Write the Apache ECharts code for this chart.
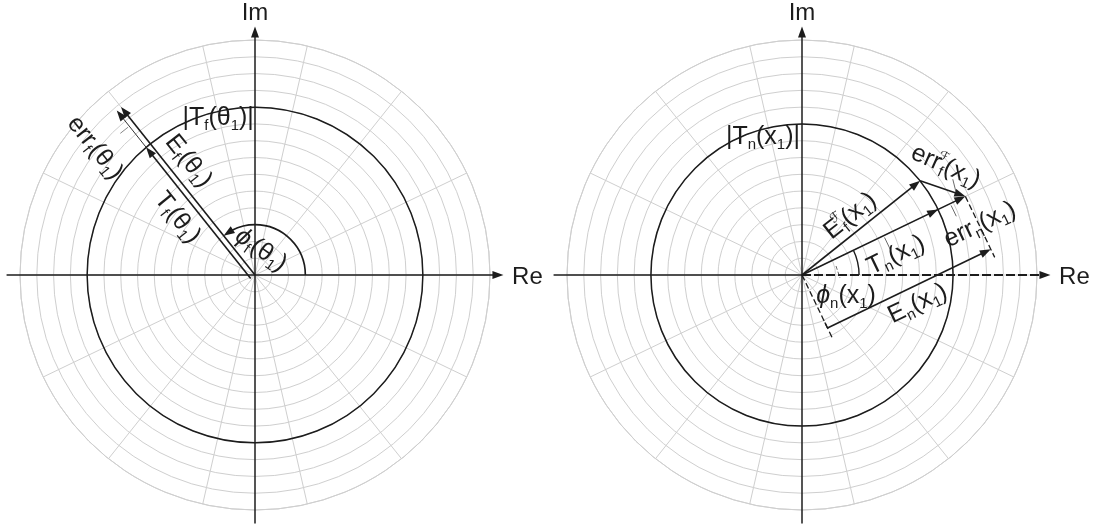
<!DOCTYPE html>
<html>
<head>
<meta charset="utf-8">
<script src="https://cdn.jsdelivr.net/npm/echarts@6/dist/echarts.min.js"></script>
<style>
  html, body { margin: 0; padding: 0; background: #fff; }
  #chart { width: 1102px; height: 526px; }
</style>
</head>
<body>
<div id="chart"></div>
<script>
// ---- polar grid ----
const ringCount = 14;          // concentric rings
const spokeCount = 14;         // radial spokes
const axisReach = [14.8];      // Re / Im axes run slightly past the outer ring

// ---- left panel: T_f(θ1), E_f(θ1) ----
const leftCircle = [10];       // |T_f(θ1)|
const leftPhase = [128.57];    // φ_f(θ1) in degrees
const leftMagT = [10];         // |T_f(θ1)|
const leftMagE = [12.8];       // |E_f(θ1)|
const leftArc = [3];           // radius of the φ_f arc

// ---- right panel: T_n(x1), E_n(x1), E_f^F(x1) ----
const rightCircle = [9];       // |T_n(x1)|
const rightPhase = [25.71];    // φ_n(x1) in degrees
const rightMagT = [9];         // |T_n(x1)|
const rightMagE = [10.8];      // |E_n(x1)|
const rightPhaseF = [38.57];   // phase of E_f^F(x1)
const rightMagF = [9];         // |E_f^F(x1)|
const rightArc = [3.4];        // radius of the φ_n arc
const rightShiftEn = [3.5];    // E_n(x1) drawn as a shifted dimension line

const INK = '#1c1c1c';
const GRID = '#cfcfcf';
const FONT = '"Liberation Sans", Arial, "DejaVu Sans", sans-serif';

const RICH = {
  m: { fontSize: 25, fontFamily: FONT, fill: INK },
  g: { fontSize: 25, fontFamily: FONT, fill: INK, fontStyle: 'italic' },
  s: { fontSize: 15, fontFamily: FONT, fill: INK, padding: [15, 0, 0, 0] },
  p: { fontSize: 13, fontFamily: FONT, fill: INK, padding: [0, 0, 16, 0], width: 1 },
  a: { fontSize: 24, fontFamily: FONT, fill: INK }
};

function seg(a, b, w, dash, color) {
  return {
    type: 'line',
    shape: { x1: a[0], y1: a[1], x2: b[0], y2: b[1] },
    style: { stroke: color || INK, lineWidth: w, lineDash: dash || null, fill: null }
  };
}
function head(tip, from, len, half) {
  const dx = tip[0] - from[0], dy = tip[1] - from[1];
  const L = Math.hypot(dx, dy);
  const ux = dx / L, uy = dy / L;
  const bx = tip[0] - ux * len, by = tip[1] - uy * len;
  return {
    type: 'polygon',
    shape: { points: [tip, [bx - uy * half, by + ux * half], [bx + uy * half, by - ux * half]] },
    style: { fill: INK, stroke: null }
  };
}
function arrow(a, b, w, dash) {
  const dx = b[0] - a[0], dy = b[1] - a[1];
  const L = Math.hypot(dx, dy);
  const e = [b[0] - dx / L * 7, b[1] - dy / L * 7];
  return [seg(a, e, w, dash), head(b, a, 11, 4)];
}
function label(p, txt, rotDeg) {
  return {
    type: 'text',
    x: p[0], y: p[1],
    rotation: rotDeg * Math.PI / 180,
    style: { text: txt, rich: RICH, align: 'center', verticalAlign: 'middle', fill: INK, fontFamily: FONT, fontSize: 25 }
  };
}
function add(p, v, k) { return [p[0] + v[0] * k, p[1] + v[1] * k]; }

// axes with arrows and the |T| circle, shared by both panels
function frame(api, circleR, dashedRe) {
  const at = (r, deg) => api.coord([r, deg]);
  const C = at(0, 0);
  const reach = axisReach[0];
  const out = [];
  out.push({
    type: 'circle',
    shape: { cx: C[0], cy: C[1], r: at(circleR, 0)[0] - C[0] },
    style: { fill: null, stroke: INK, lineWidth: 1.5 }
  });
  const reL = at(reach, 180), reR = at(reach, 0), imB = at(reach, 270), imT = at(reach, 90);
  out.push(seg(imB, add(imT, [0, 1], 7), 1.5));
  out.push(head(imT, C, 11, 4));
  if (dashedRe) {
    out.push(seg(reL, C, 1.6));
    out.push(seg(C, add(reR, [-1, 0], 7), 1.9, [9, 3]));
  } else {
    out.push(seg(reL, add(reR, [-1, 0], 7), 1.5));
  }
  out.push(head(reR, C, 11, 4));
  out.push(label([imT[0], 13], '{a|Im}', 0));
  out.push(label([reR[0] + 24, 277], '{a|Re}', 0));
  return out;
}

function renderLeft(params, api) {
  const at = (r, deg) => api.coord([r, deg]);
  const C = at(0, 0);
  const u = at(1, 0)[0] - C[0];
  const phi = leftPhase[0];
  const rad = phi * Math.PI / 180;
  const d = [Math.cos(rad), -Math.sin(rad)];
  const n = [-Math.sin(rad), -Math.cos(rad)];
  const place = (r, off) => [C[0] + r * u * d[0] + off * n[0], C[1] + r * u * d[1] + off * n[1]];
  const along = phi - 180;   // text reads from the tip toward the origin
  const kids = frame(api, leftCircle[0], false);

  // E_f(θ1) from the origin, T_f(θ1) and err_f(θ1) on a parallel track
  kids.push(...arrow(C, place(leftMagE[0], 0), 1.6));
  kids.push(...arrow(place(0, 5.5), place(leftMagT[0], 5.5), 1.6));
  kids.push(...arrow(place(leftMagT[0], 5.5), place(leftMagE[0], 5.5), 0.9));
  kids.push(seg(place(11.6, 7), place(11.6, 17), 0.7, null, '#555'));

  // phase arc φ_f(θ1)
  const ar = leftArc[0] * u;
  const endRad = rad - 0.2;
  kids.push({
    type: 'arc',
    shape: { cx: C[0], cy: C[1], r: ar, startAngle: 0, endAngle: -endRad, clockwise: false },
    style: { fill: null, stroke: INK, lineWidth: 1.6 }
  });
  const tip = [C[0] + ar * Math.cos(rad), C[1] - ar * Math.sin(rad)];
  const from = [C[0] + ar * Math.cos(endRad), C[1] - ar * Math.sin(endRad)];
  kids.push(head(tip, from, 11, 4));

  kids.push(label(place(7.78, -19), '{m|E}{s|f}{m|(θ}{s|1}{m|)}', along));
  kids.push(label(place(5.55, 25), '{m|T}{s|f}{m|(θ}{s|1}{m|)}', along));
  kids.push(label(place(11.86, 46), '{m|err}{s|f}{m|(θ}{s|1}{m|)}', along));
  kids.push(label(at(9.6, 103.2), '{m|\u007CT}{s|f}{m|(θ}{s|1}{m|)\u007C}', 0));
  kids.push(label([C[0] + 6, C[1] - 25], '{g|ϕ}{s|f}{m|(θ}{s|1}{m|)}', -35));
  return { type: 'group', children: kids };
}

function renderRight(params, api) {
  const at = (r, deg) => api.coord([r, deg]);
  const C = at(0, 0);
  const u = at(1, 0)[0] - C[0];
  const phi = rightPhase[0];
  const rad = phi * Math.PI / 180;
  const d = [Math.cos(rad), -Math.sin(rad)];
  const n = [Math.sin(rad), Math.cos(rad)];
  const place = (r, off) => [C[0] + r * u * d[0] + off * n[0], C[1] + r * u * d[1] + off * n[1]];
  const kids = frame(api, rightCircle[0], true);

  const tipE = at(rightMagE[0], phi);
  const tipT = at(rightMagT[0], phi);
  const tipF = at(rightMagF[0], rightPhaseF[0]);

  // E_n(x1) through T_n(x1), E_f^F(x1) and err_f^F(x1)
  kids.push(...arrow(C, tipE, 1.6));
  kids.push(head(tipT, C, 11, 4));
  kids.push(...arrow(C, tipF, 1.6));
  kids.push(...arrow(tipF, tipE, 1.6));

  // shifted copy of E_n(x1) with its extension lines
  const sh = rightShiftEn[0] * u;
  const start = add(C, n, sh);
  kids.push(seg(C, add(C, n, sh + 12), 1.3, [6, 3]));
  kids.push(seg(start, add(start, n, -6), 1.4));
  kids.push(...arrow(start, add(start, [tipE[0] - C[0], tipE[1] - C[1]], 1), 1.6));
  kids.push(seg(tipE, add(tipE, n, sh + 9), 1.3, [6, 3]));

  // phase arc φ_n(x1)
  const ar = rightArc[0] * u;
  kids.push({
    type: 'arc',
    shape: { cx: C[0], cy: C[1], r: ar, startAngle: 0, endAngle: -rad, clockwise: false },
    style: { fill: null, stroke: INK, lineWidth: 1.4 }
  });

  // label leaders
  kids.push(seg(place(5.4, 2), place(5.4, 15), 0.8, null, '#444'));
  kids.push(seg(place(9.8, 2), place(9.8, 14), 0.8, null, '#444'));
  kids.push(seg([C[0] + 34, C[1] - 9], [C[0] + 38, C[1] + 3], 0.8, [4, 2], '#444'));
  const mid = add(tipF, [tipE[0] - tipF[0], tipE[1] - tipF[1]], 0.8);
  kids.push(seg(add(mid, [-0.25, -1], 2), add(mid, [-0.25, -1], 14), 0.8, null, '#444'));

  const rF = rightPhaseF[0] * Math.PI / 180;
  const dF = [Math.cos(rF), -Math.sin(rF)];
  const nF = [-Math.sin(rF), -Math.cos(rF)];
  const posF = [C[0] + 4.44 * u * dF[0] + 16 * nF[0], C[1] + 4.44 * u * dF[1] + 16 * nF[1]];
  const midErr = add(tipF, [tipE[0] - tipF[0], tipE[1] - tipF[1]], 0.5);

  kids.push(label(place(5.56, 23), '{m|T}{s|n}{m|(x}{s|1}{m|)}', phi));
  kids.push(label(place(10.85, 32), '{m|err}{s|n}{m|(x}{s|1}{m|)}', phi));
  kids.push(label(place(5.47, 76), '{m|E}{s|n}{m|(x}{s|1}{m|)}', phi));
  kids.push(label(posF, '{m|E}{p|ℱ}{s|f}{m|(x}{s|1}{m|)}', rightPhaseF[0]));
  kids.push(label(add(midErr, [3, -22], 1), '{m|err}{p|ℱ}{s|f}{m|(x}{s|1}{m|)}', -24));
  kids.push(label([C[0] + 44, C[1] + 21], '{g|ϕ}{s|n}{m|(x}{s|1}{m|)}', 0));
  kids.push(label(at(8.54, 105.8), '{m|\u007CT}{s|n}{m|(x}{s|1}{m|)\u007C}', 0));
  return { type: 'group', children: kids };
}

const panelCenters = [[255, 275], [802, 275]];

const angleAxes = panelCenters.map((c, i) => ({
  polarIndex: i,
  type: 'value',
  min: 0,
  max: 360,
  interval: 360 / spokeCount,
  startAngle: 0,
  clockwise: false,
  axisLine: { show: true, lineStyle: { color: GRID, width: 1 } },
  axisTick: { show: false },
  axisLabel: { show: false },
  splitLine: { show: true, lineStyle: { color: GRID, width: 1 } }
}));
const radiusAxes = panelCenters.map((c, i) => ({
  polarIndex: i,
  type: 'value',
  min: 0,
  max: ringCount,
  interval: 1,
  axisLine: { show: false },
  axisTick: { show: false },
  axisLabel: { show: false },
  splitLine: { show: true, lineStyle: { color: GRID, width: 1 } }
}));

const chart = echarts.init(document.getElementById('chart'));
chart.setOption({
  animation: false,
  backgroundColor: '#ffffff',
  polar: panelCenters.map(c => ({ center: c, radius: 235 })),
  angleAxis: angleAxes,
  radiusAxis: radiusAxes,
  series: [
    {
      type: 'custom', coordinateSystem: 'polar', polarIndex: 0, silent: true, z: 5,
      data: [[leftMagE[0], leftPhase[0]]],
      renderItem: renderLeft
    },
    {
      type: 'custom', coordinateSystem: 'polar', polarIndex: 1, silent: true, z: 5,
      data: [[rightMagE[0], rightPhase[0]]],
      renderItem: renderRight
    }
  ]
});
</script>
</body>
</html>
